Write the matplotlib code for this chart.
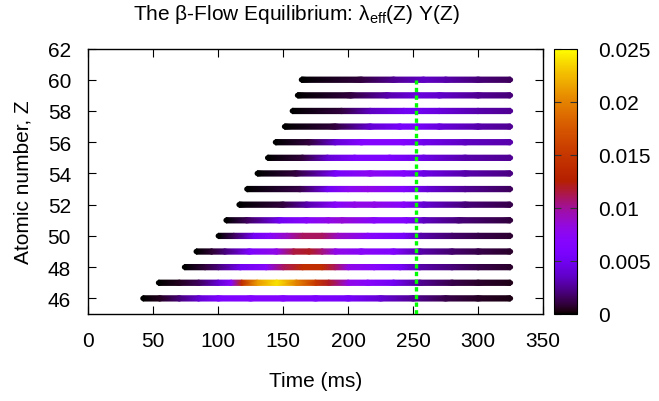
import numpy as np
import matplotlib
matplotlib.use("Agg")
import matplotlib.pyplot as plt
from matplotlib.colors import Normalize
from matplotlib.cm import ScalarMappable

plt.rcParams['font.family'] = ['Liberation Sans', 'DejaVu Sans']
plt.rcParams['mathtext.fontset'] = 'custom'
plt.rcParams['mathtext.rm'] = 'Liberation Sans'
FS = 15

# ---- data ----
Z_values = [46, 47, 48, 49, 50, 51, 52, 53, 54, 55, 56, 57, 58, 59, 60]
knot_times = [
    [42, 55, 70, 85, 100, 125, 150, 175, 200, 225, 250, 275, 300, 325],
    [54, 70, 85, 100, 110, 118, 130, 145, 160, 175, 185, 200, 215, 235, 255, 280, 300, 325],
    [74, 90, 100, 117, 137, 150, 165, 180, 190, 200, 220, 240, 255, 280, 300, 325],
    [83, 95, 105, 124, 145, 158, 170, 180, 190, 210, 235, 255, 280, 300, 325],
    [100, 112, 127, 140, 153, 165, 180, 192, 215, 243, 256, 280, 300, 325],
    [106, 122, 147, 168, 185, 195, 220, 245, 258, 285, 325],
    [116, 150, 168, 190, 205, 220, 243, 258, 290, 325],
    [122, 163, 184, 200, 215, 243, 261, 290, 325],
    [130, 160, 190, 217, 243, 258, 290, 325],
    [138, 165, 184, 205, 232, 258, 290, 325],
    [144, 170, 190, 210, 243, 258, 290, 325],
    [151, 190, 217, 240, 253, 270, 300, 325],
    [157, 195, 217, 243, 253, 270, 300, 325],
    [161, 202, 230, 253, 270, 300, 325],
    [164, 210, 235, 258, 275, 300, 325],
]
knot_values = [
    [0, 0.0005, 0.002, 0.004, 0.006, 0.0065, 0.0065, 0.006, 0.0055, 0.004, 0.0025, 0.0012, 0.0006, 0.0003],
    [0, 0.0005, 0.0015, 0.004, 0.007, 0.014, 0.021, 0.024, 0.02, 0.015, 0.012, 0.008, 0.007, 0.005, 0.0025, 0.0012, 0.0007, 0.0004],
    [0, 0.001, 0.002, 0.005, 0.007, 0.011, 0.014, 0.014, 0.011, 0.008, 0.007, 0.0055, 0.003, 0.002, 0.0012, 0.0007],
    [0, 0.0008, 0.002, 0.006, 0.008, 0.0115, 0.012, 0.0105, 0.008, 0.0072, 0.0065, 0.003, 0.0018, 0.0012, 0.0007],
    [0, 0.0015, 0.005, 0.007, 0.009, 0.011, 0.011, 0.009, 0.007, 0.0055, 0.003, 0.0018, 0.0012, 0.0008],
    [0, 0.0015, 0.005, 0.007, 0.008, 0.0085, 0.007, 0.0065, 0.0035, 0.002, 0.001],
    [0, 0.001, 0.003, 0.007, 0.008, 0.008, 0.007, 0.004, 0.002, 0.0012],
    [0, 0.0012, 0.005, 0.0075, 0.008, 0.0065, 0.004, 0.0025, 0.0015],
    [0, 0.001, 0.0055, 0.0075, 0.0065, 0.0045, 0.003, 0.0022],
    [0, 0.001, 0.004, 0.006, 0.006, 0.0045, 0.003, 0.0025],
    [0, 0.001, 0.004, 0.0065, 0.0065, 0.0048, 0.0035, 0.003],
    [0, 0.001, 0.004, 0.0055, 0.0055, 0.0042, 0.003, 0.0025],
    [0, 0.001, 0.0035, 0.005, 0.005, 0.0042, 0.003, 0.0025],
    [0, 0.001, 0.003, 0.0042, 0.0038, 0.0025, 0.002],
    [0, 0.001, 0.0025, 0.0036, 0.003, 0.002, 0.0015],
]
equilibrium_time = 252
x_ticks = [0, 50, 100, 150, 200, 250, 300, 350]
y_ticks = [46, 48, 50, 52, 54, 56, 58, 60, 62]
cb_ticks = [0, 0.005, 0.01, 0.015, 0.02, 0.025]
cb_labels = ['0', '0.005', '0.01', '0.015', '0.02', '0.025']

# ---- figure ----
W, H = 659, 402
fig = plt.figure(figsize=(W / 100, H / 100), dpi=100)
ax = fig.add_axes([88.3 / W, 1 - 315 / H, (543 - 88.3) / W, (315 - 49.5) / H])
cmap = plt.get_cmap('gnuplot')
norm = Normalize(0, 0.025)

half = 0.17
for z, t, v in zip(Z_values, knot_times, knot_values):
    t = np.asarray(t, float)
    v = np.asarray(v, float)
    X = np.vstack([t, t])
    Y = np.vstack([np.full_like(t, z - half), np.full_like(t, z + half)])
    C = np.vstack([v, v])
    ax.pcolormesh(X, Y, C, shading='gouraud', cmap=cmap, norm=norm, zorder=2)
    ax.scatter([t[0], t[-1]], [z, z], c=[v[0], v[-1]], cmap=cmap, norm=norm,
               s=14, marker='o', linewidths=0, zorder=2)

ax.plot([equilibrium_time, equilibrium_time], [45, 60], color='#00ff00',
        lw=2.4, linestyle=(0, (1.3, 1.0)), zorder=3)

ax.set_xlim(0, 350)
ax.set_ylim(45, 62)
ax.set_xticks(x_ticks)
ax.set_yticks(y_ticks)
ax.tick_params(direction='in', length=5.5, width=0.8, top=True, right=True,
               labelsize=FS)
ax.tick_params(axis='x', pad=12.5)
ax.tick_params(axis='y', pad=12.5)
for s in ax.spines.values():
    s.set_linewidth(1.0)
ax.set_xlabel('Time (ms)', fontsize=FS, labelpad=15)
ax.set_ylabel('Atomic number, Z', fontsize=FS, labelpad=11)

fig.text(133 / W, 1 - 19.5 / H, 'The β-Flow Equilibrium: λ$_{\\mathrm{eff}}$(Z) Y(Z)',
         ha='left', va='baseline', fontsize=FS)

cax = fig.add_axes([554 / W, 1 - 315 / H, 23.3 / W, (315 - 49.5) / H])
sm = ScalarMappable(norm=norm, cmap=cmap)
cb = fig.colorbar(sm, cax=cax, ticks=cb_ticks)
cb.ax.set_yticklabels(cb_labels)
cb.ax.tick_params(direction='in', length=5, width=0.8, left=True, right=True,
                  labelsize=FS, pad=15, color='#333333')
cb.outline.set_linewidth(0.8)

fig.savefig('out.png', dpi=100)
